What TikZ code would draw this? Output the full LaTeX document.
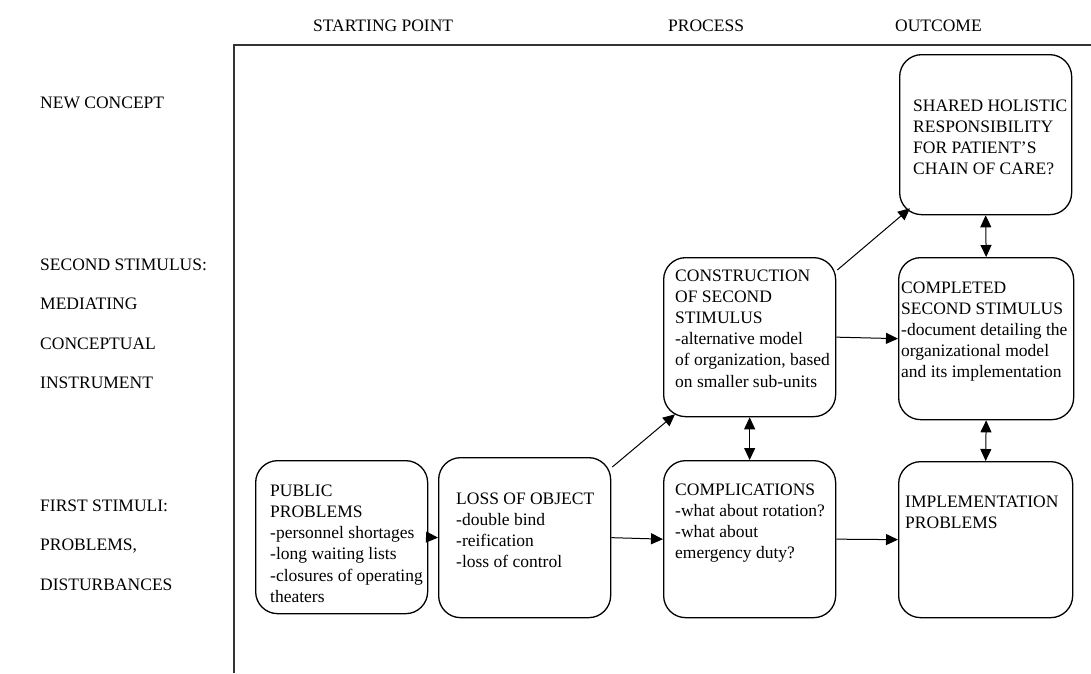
\documentclass[tikz,border=0pt]{standalone}
\usepackage{fontspec}
\setmainfont{Liberation Serif}
\usetikzlibrary{arrows.meta,calc}
\begin{document}
\begin{tikzpicture}[x=1pt,y=-1pt,
  box/.style={draw, line width=1.3pt, rounded corners=22pt, inner sep=0pt, anchor=north west},
  txt/.style={anchor=north west, inner sep=0pt, align=left, font=\fontsize{17.5}{21.2}\selectfont},
  lbl/.style={anchor=north west, inner sep=0pt, align=left, font=\fontsize{17.5}{39.5}\selectfont},
  hdr/.style={anchor=base west, inner sep=0pt, font=\fontsize{17.5}{21}\selectfont},
  axis/.style={line width=1.4pt, black!80},
  arr/.style={-{Triangle[length=12pt,width=11pt]}, line width=1pt},
  darr/.style={{Triangle[length=12pt,width=11pt]}-{Triangle[length=12pt,width=11pt]}, line width=1pt}]
\useasboundingbox (0,0) rectangle (1091,673);

% axes
\coordinate (axtop) at (234,45);
\coordinate (axbot) at (234,673);
\coordinate (axright) at (1091,45);
\draw[axis] (axbot) -- (axtop) -- (axright);

% headers
\node[hdr] (hstart) at (313,31) {STARTING POINT};
\node[hdr] (hproc) at (668,31) {PROCESS};
\node[hdr] (hout) at (895,31) {OUTCOME};

% row labels
\node[lbl] (lnew) at (40,96.4) {NEW CONCEPT};
\node[lbl] (lsec) at (40,258.4) {SECOND STIMULUS:\\MEDIATING\\CONCEPTUAL\\INSTRUMENT};
\node[lbl] (lfirst) at (40,499.4) {FIRST STIMULI:\\PROBLEMS,\\DISTURBANCES};

% boxes
\node[box, minimum width=172pt, minimum height=153pt] (pub) at (255,460) {};
\node[box, minimum width=172pt, minimum height=160pt] (loss) at (438,457) {};
\node[box, minimum width=172pt, minimum height=159pt] (cons) at (663,257) {};
\node[box, minimum width=172pt, minimum height=157pt] (compl) at (663,460) {};
\node[box, minimum width=172pt, minimum height=160pt] (shared) at (899,54) {};
\node[box, minimum width=175pt, minimum height=162pt] (done) at (898,257) {};
\node[box, minimum width=174pt, minimum height=156pt] (impl) at (898,461) {};

% box texts
\node[txt] (tpub) at (270,484.4) {PUBLIC\\PROBLEMS\\-personnel shortages\\-long waiting lists\\-closures of operating\\theaters};
\node[txt] (tloss) at (456,492.4) {LOSS OF OBJECT\\-double bind\\-reification\\-loss of control};
\node[txt] (tcons) at (675,269.4) {CONSTRUCTION\\OF SECOND\\STIMULUS\\-alternative model\\of organization, based\\on smaller sub-units};
\node[txt] (tcompl) at (675,483.4) {COMPLICATIONS\\-what about rotation?\\-what about\\emergency duty?};
\node[txt] (tshared) at (913,99.4) {SHARED HOLISTIC\\RESPONSIBILITY\\FOR PATIENT’S\\CHAIN OF CARE?};
\node[txt] (tdone) at (901,281.4) {COMPLETED\\SECOND STIMULUS\\-document detailing the\\organizational model\\and its implementation};
\node[txt] (timpl) at (905,495.4) {IMPLEMENTATION\\PROBLEMS};

% connectors
\draw[arr] (pub.east) -- (loss.west);
\draw[arr] (loss.east) -- (compl.west);
\draw[arr] (compl.east) -- (impl.west);
\draw[arr] (cons.east) -- (done.west);
\draw[arr] ($(loss.north east)+(1,10)$) -- ($(cons.south west)+(12,-3)$);
\draw[arr] ($(cons.north east)+(1,13)$) -- ($(shared.south west)+(11,-7)$);
\draw[darr] (cons.south) -- (compl.north);
\draw[darr] (shared.south) -- (done.north);
\draw[darr] (done.south) -- (impl.north);
\end{tikzpicture}
\end{document}
